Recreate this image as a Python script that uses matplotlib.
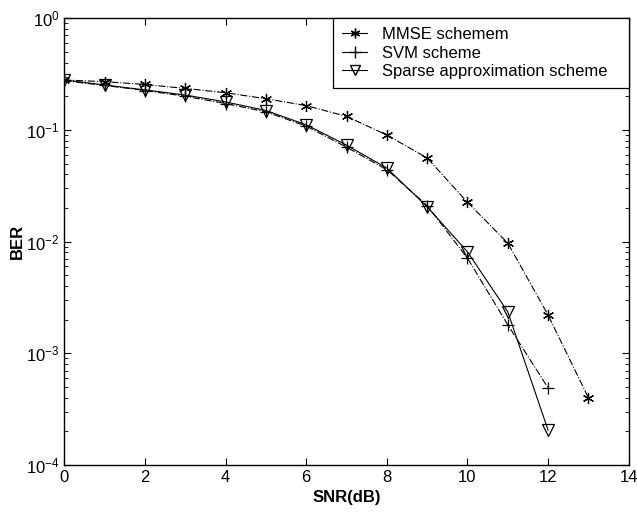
import matplotlib
matplotlib.use("Agg")
import matplotlib.pyplot as plt
from matplotlib.lines import Line2D

plt.rcParams["font.family"] = ["Liberation Sans", "DejaVu Sans"]
plt.rcParams["mathtext.fontset"] = "custom"
plt.rcParams["mathtext.rm"] = "Liberation Sans"

# BER values
snr_mmse = [0, 1, 2, 3, 4, 5, 6, 7, 8, 9, 10, 11, 12, 13]
ber_mmse = [0.28, 0.27, 0.255, 0.235, 0.215, 0.19, 0.165, 0.132, 0.09, 0.056,
            0.0225, 0.0097, 0.0022, 0.0004]

snr_svm = [0, 1, 2, 3, 4, 5, 6, 7, 8, 9, 10, 11, 12]
ber_svm = [0.275, 0.25, 0.225, 0.2, 0.172, 0.145, 0.108, 0.07, 0.044, 0.021,
           0.0071, 0.0018, 0.00049]

snr_sparse = [0, 1, 2, 3, 4, 5, 6, 7, 8, 9, 10, 11, 12]
ber_sparse = [0.28, 0.252, 0.228, 0.205, 0.178, 0.149, 0.111, 0.073, 0.0455,
              0.0205, 0.0081, 0.00235, 0.000205]

labels = ["MMSE schemem", "SVM scheme", "Sparse approximation scheme"]

fig = plt.figure(figsize=(6.37, 5.19), dpi=100)
ax = fig.add_axes([0.101, 0.104, 0.886, 0.861])

asterisk = (6, 2, 0)
ax.semilogy(snr_mmse, ber_mmse, color="black", linestyle="-.", linewidth=0.8,
            marker=asterisk, markersize=8, markeredgewidth=0.9)
ax.semilogy(snr_svm, ber_svm, color="black", linestyle="-.", linewidth=0.8,
            marker="+", markersize=9, markeredgewidth=0.9)
ax.semilogy(snr_sparse, ber_sparse, color="black", linestyle="-", linewidth=0.8,
            marker="v", markersize=8, markerfacecolor="none", markeredgewidth=0.9)

ax.set_xlim(0, 14)
ax.set_ylim(1e-4, 1)
ax.set_xticks(range(0, 15, 2))
ax.tick_params(which="both", direction="in", top=True, right=True, labelsize=12)
ax.tick_params(which="major", length=5)
ax.tick_params(which="minor", length=3)
for s in ax.spines.values():
    s.set_linewidth(1.0)

ax.set_xlabel("SNR(dB)", fontsize=12, fontweight="bold", labelpad=4)
ax.set_ylabel("BER", fontsize=12, fontweight="bold", labelpad=1)

handles = [
    Line2D([], [], color="black", linewidth=0.8, marker=asterisk, markersize=7),
    Line2D([], [], color="black", linewidth=0.8, marker="+", markersize=8),
    Line2D([], [], color="black", linewidth=0.8, marker="v", markersize=7,
           markerfacecolor="none"),
]
leg = ax.legend(handles, labels, loc="upper left", fontsize=12, fancybox=False,
                bbox_to_anchor=(0.476, 0.0, 0.524, 1.0), mode="expand",
                edgecolor="black", framealpha=1, borderaxespad=0,
                handlelength=1.5, handletextpad=0.9, labelspacing=0.2,
                borderpad=0.55)
leg.get_frame().set_linewidth(0.9)

fig.savefig("out.png", dpi=100)
print("Saved: out.png")
